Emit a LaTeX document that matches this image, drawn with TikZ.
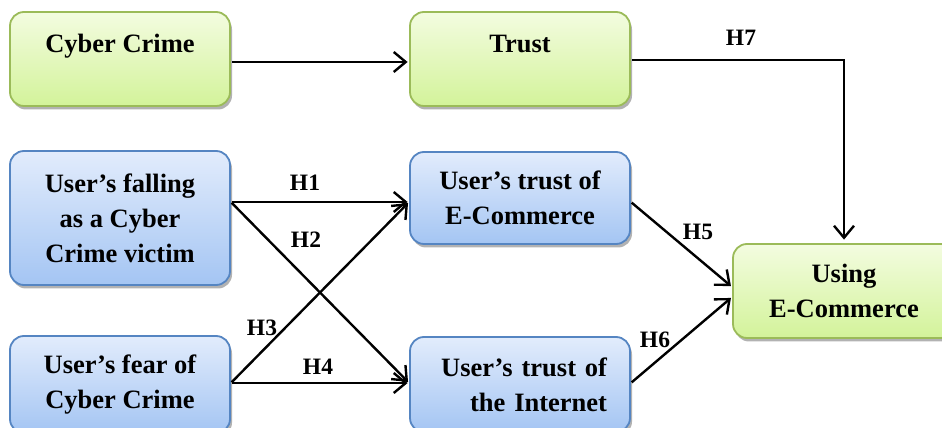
\documentclass[tikz,border=0pt]{standalone}
\usepackage{fontspec}
\setmainfont{Liberation Serif}
\usetikzlibrary{arrows.meta,shadows}
\definecolor{gtop}{HTML}{F3FCE0}
\definecolor{gbot}{HTML}{D3F39A}
\definecolor{gline}{HTML}{9BBB59}
\definecolor{btop}{HTML}{E2ECFC}
\definecolor{bbot}{HTML}{A4C5F3}
\definecolor{bline}{HTML}{5585C2}
% straight typewriter apostrophe
\newcommand{\apos}{\char"27\relax}
\begin{document}
\begin{tikzpicture}[x=1pt,y=1pt,
  box/.style={rounded corners=14pt, line width=1.8pt, minimum width=220pt,
    inner sep=0pt, align=center, font=\bfseries\fontsize{26.5}{35}\selectfont,
    drop shadow={shadow xshift=2pt, shadow yshift=-3.5pt, fill=black!60, opacity=.5}},
  gbox/.style={box, draw=gline, top color=gtop, bottom color=gbot},
  bbox/.style={box, draw=bline, top color=btop, bottom color=bbot},
  txt/.style={font=\bfseries\fontsize{26.5}{35}\selectfont, align=center, inner sep=0pt},
  hyp/.style={font=\bfseries\fontsize{23.5}{28}\selectfont, inner sep=0pt},
  link/.style={line width=2.4pt, shorten <=1pt, shorten >=1.5pt,
    -{Straight Barb[length=12pt,width=20pt]}}
]
\useasboundingbox (0,0) rectangle (942,428);

% boxes
\node[gbox, minimum height=94pt] (cyber) at (120,369) {};
\node[txt, anchor=base] (cybertxt) at ([yshift=6pt]cyber.center) {Cyber Crime};
\node[gbox, minimum height=94pt] (trust) at (520,369) {};
\node[txt, anchor=base] (trusttxt) at ([yshift=6pt]trust.center) {Trust};

\node[bbox, minimum height=134pt] (fall) at (120,210)
  {User\apos s falling\\as a Cyber\\Crime victim};
\node[bbox, minimum height=92pt] (ecom) at (520,230)
  {User\apos s trust of\\E-Commerce};
\node[bbox, minimum height=97pt] (fear) at (120,43.5)
  {User\apos s fear of\\Cyber Crime};
\node[bbox, minimum height=95pt, text width=174pt, align=right] (inet) at (520,43.5)
  {User\apos s trust of\\the Internet};
\node[gbox, minimum width=222pt, minimum height=94pt] (using) at (844,137)
  {Using\\E-Commerce};

% connectors
\draw[link] ([yshift=-3pt]cyber.east) -- ([yshift=-3pt]trust.west);
\draw[link] ([yshift=-1pt]trust.east) -| ([yshift=2pt]using.north);
\draw[link] ([yshift=16pt]fall.east) -- ([yshift=-4pt]ecom.west);
\draw[link] ([yshift=16pt]fall.east) -- ([yshift=1.5pt]inet.west);
\draw[link] ([yshift=1.5pt]fear.east) -- ([yshift=-4pt]ecom.west);
\draw[link] ([yshift=1.5pt]fear.east) -- ([yshift=1.5pt]inet.west);
\draw[link] ([yshift=-4pt]ecom.east) -- ([yshift=4pt]using.west);
\draw[link] ([yshift=1.5pt]inet.east) -- ([yshift=-6pt]using.west);

% hypothesis labels
\node[hyp] (h1) at (305,245) {H1};
\node[hyp] (h2) at (306,188) {H2};
\node[hyp] (h3) at (262,100) {H3};
\node[hyp] (h4) at (318,61) {H4};
\node[hyp] (h5) at (698,196) {H5};
\node[hyp] (h6) at (655,88) {H6};
\node[hyp] (h7) at (741,390) {H7};
\end{tikzpicture}
\end{document}
